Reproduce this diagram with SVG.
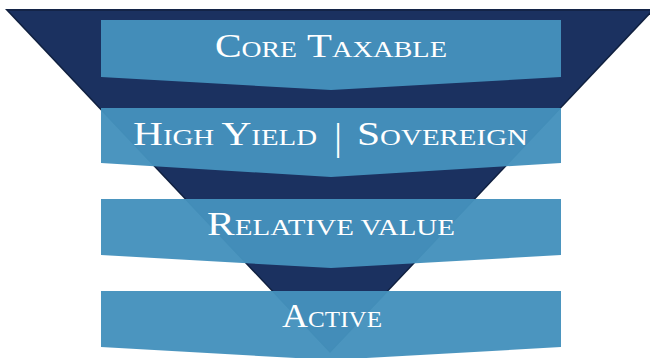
<svg xmlns="http://www.w3.org/2000/svg" width="650" height="358" viewBox="0 0 650 358">
  <defs>
    <style>
      .banner { fill: #4491bd; fill-opacity: 0.965; }
      .lbl { font-family: "Liberation Serif", "Times New Roman", serif; fill: #ffffff; font-size: 33px; }
      .sc { font-size: 23px; }
    </style>
  </defs>
  <rect x="0" y="0" width="650" height="358" fill="#ffffff"/>
  <g id="funnel">
    <polygon points="5,9 655,9 330,353" fill="#10203f"/>
    <polygon points="8,10 652,10 330,351" fill="#1b3160"/>
    <line x1="8" y1="10" x2="652" y2="10" stroke="#142447" stroke-width="2"/>
  </g>
  <g id="connectors"></g>
  <g id="core-taxable">
    <polygon class="banner" points="101,20 561,20 561,77 331,90 101,77"/>
    <text class="lbl" x="215" y="57" textLength="82" lengthAdjust="spacingAndGlyphs">C<tspan class="sc">ORE</tspan></text>
    <text class="lbl" x="307" y="57" textLength="140" lengthAdjust="spacingAndGlyphs">T<tspan class="sc">AXABLE</tspan></text>
  </g>
  <g id="high-yield-sovereign">
    <polygon class="banner" points="101,108 561,108 561,163 331,177 101,163"/>
    <text class="lbl" x="133" y="145" textLength="184" lengthAdjust="spacingAndGlyphs">H<tspan class="sc">IGH </tspan>Y<tspan class="sc">IELD</tspan></text>
    <text class="lbl" x="338" y="150" text-anchor="middle" style="font-size:38px">|</text>
    <text class="lbl" x="357" y="145" textLength="171" lengthAdjust="spacingAndGlyphs">S<tspan class="sc">OVEREIGN</tspan></text>
  </g>
  <g id="relative-value">
    <polygon class="banner" points="101,199 561,199 561,255 331,268 101,255"/>
    <text class="lbl" x="207" y="235" textLength="248" lengthAdjust="spacingAndGlyphs">R<tspan class="sc">ELATIVE VALUE</tspan></text>
  </g>
  <g id="active">
    <polygon class="banner" points="101,291 561,291 561,347 331,360 101,347"/>
    <text class="lbl" x="282" y="327" textLength="100" lengthAdjust="spacingAndGlyphs">A<tspan class="sc">CTIVE</tspan></text>
  </g>
</svg>
